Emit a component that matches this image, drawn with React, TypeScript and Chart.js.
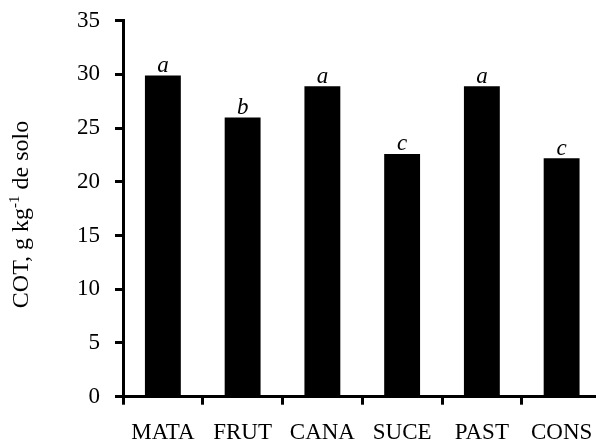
import React, { useEffect, useRef } from "react";
import { Chart, registerables } from "chart.js";

Chart.register(...registerables);

const categories = ["MATA", "FRUT", "CANA", "SUCE", "PAST", "CONS"];
const values = [29.9, 26.0, 28.9, 22.6, 28.9, 22.2];
const letters = ["a", "b", "a", "c", "a", "c"];
const yTicks = [0, 5, 10, 15, 20, 25, 30, 35];

const FONT = "'Liberation Serif', 'Times New Roman', serif";

const letterPlugin = {
  id: "letters",
  afterDatasetsDraw(chart: any) {
    const ctx = chart.ctx;
    const meta = chart.getDatasetMeta(0);
    ctx.save();
    ctx.fillStyle = "#000";
    ctx.font = `italic 23px ${FONT}`;
    ctx.textAlign = "center";
    ctx.textBaseline = "alphabetic";
    meta.data.forEach((bar: any, i: number) => {
      ctx.fillText(letters[i], bar.x, bar.y - 3.5);
    });
    ctx.restore();
  },
};

const yTitlePlugin = {
  id: "ytitle",
  afterDraw(chart: any) {
    const ctx = chart.ctx;
    const main1 = "COT, g kg";
    const sup = "-1";
    const main2 = " de solo";
    const mainFont = `24px ${FONT}`;
    const supFont = `15px ${FONT}`;
    ctx.save();
    ctx.font = mainFont;
    const w1 = ctx.measureText(main1).width;
    const w3 = ctx.measureText(main2).width;
    ctx.font = supFont;
    const w2 = ctx.measureText(sup).width;
    const total = w1 + w2 + w3;
    ctx.translate(28, 214.5);
    ctx.rotate(-Math.PI / 2);
    ctx.fillStyle = "#000";
    ctx.textBaseline = "alphabetic";
    ctx.textAlign = "left";
    let x = -total / 2;
    ctx.font = mainFont;
    ctx.fillText(main1, x, 0);
    x += w1;
    ctx.font = supFont;
    ctx.fillText(sup, x, -9);
    x += w2;
    ctx.font = mainFont;
    ctx.fillText(main2, x, 0);
    ctx.restore();
  },
};

export default function App() {
  const ref = useRef<HTMLCanvasElement | null>(null);

  useEffect(() => {
    if (!ref.current) return;
    const chart = new Chart(ref.current, {
      type: "bar",
      data: {
        labels: categories,
        datasets: [
          {
            data: values,
            backgroundColor: "#000",
            borderColor: "#000",
            borderWidth: 0,
            barPercentage: 0.45,
            categoryPercentage: 1,
          },
        ],
      },
      options: {
        responsive: false,
        animation: false,
        events: [],
        layout: { padding: { left: 0, top: 20.7, right: 18.5, bottom: 0 } },
        plugins: {
          legend: { display: false },
          tooltip: { enabled: false },
        },
        scales: {
          x: {
            grid: {
              offset: true,
              drawOnChartArea: false,
              drawTicks: true,
              tickLength: 8,
              tickWidth: 3,
              color: "#000",
            },
            border: { display: true, color: "#000", width: 3 },
            ticks: {
              color: "#000",
              font: { family: FONT, size: 23 },
              padding: 14,
              maxRotation: 0,
              autoSkip: false,
            },
            afterFit(scale: any) {
              scale.height = 47.3;
              scale.paddingLeft = 0;
              scale.paddingRight = 0;
            },
          },
          y: {
            min: 0,
            max: 35,
            afterBuildTicks(scale: any) {
              scale.ticks = yTicks.map((v) => ({ value: v }));
            },
            grid: {
              drawOnChartArea: false,
              drawTicks: true,
              tickLength: 8,
              tickWidth: 3,
              color: "#000",
            },
            border: { display: true, color: "#000", width: 3 },
            ticks: {
              color: "#000",
              font: { family: FONT, size: 23 },
              padding: 15,
            },
            afterFit(scale: any) {
              scale.width = 123;
              scale.paddingTop = 0;
              scale.paddingBottom = 0;
            },
          },
        },
      },
      plugins: [letterPlugin, yTitlePlugin],
    });
    return () => chart.destroy();
  }, []);

  return (
    <div
      style={{
        position: "fixed",
        left: 0,
        top: 0,
        width: 596,
        height: 444,
        overflow: "hidden",
        background: "#fff",
      }}
    >
      <canvas ref={ref} width={620} height={444} style={{ width: 620, height: 444, display: "block" }} />
    </div>
  );
}
